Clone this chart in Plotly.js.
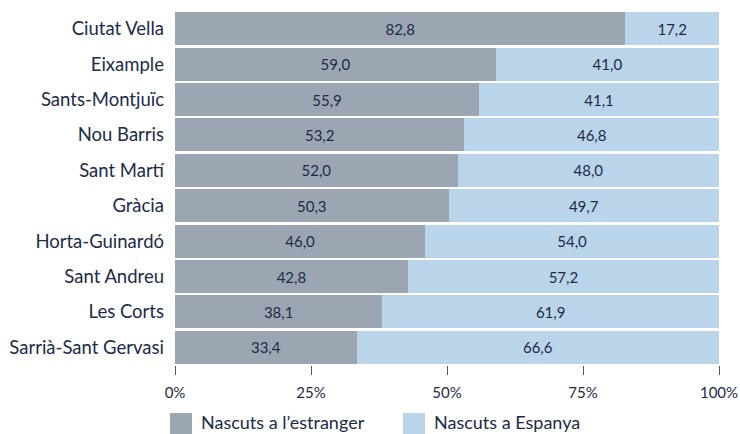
<!DOCTYPE html>
<html>
<head>
<meta charset="utf-8">
<script src="https://cdn.plot.ly/plotly-3.0.1.min.js"></script>
<style>
html,body{margin:0;padding:0;background:#fff;}
#chart{width:740px;height:434px;}
</style>
</head>
<body>
<div id="chart"></div>
<script>
// Data
const districtes = ["Ciutat Vella", "Eixample", "Sants-Montjuïc", "Nou Barris", "Sant Martí",
  "Gràcia", "Horta-Guinardó", "Sant Andreu", "Les Corts", "Sarrià-Sant Gervasi"];
const estranger = [82.8, 59.0, 55.9, 53.2, 52.0, 50.3, 46.0, 42.8, 38.1, 33.4];
// bar lengths as drawn in the picture
const espanya = [17.2, 41.0, 44.1, 46.8, 48.0, 49.7, 54.0, 57.2, 61.9, 66.6];
// values as labelled in the picture
const espanyaLabels = [17.2, 41.0, 41.1, 46.8, 48.0, 49.7, 54.0, 57.2, 61.9, 66.6];
const seriesNames = ["Nascuts a l’estranger", "Nascuts a Espanya"];
const tickValues = [0, 25, 50, 75, 100];

const txtColor = "#1c2b48";
const darkColor = "#9ca6b2";
const lightColor = "#bad5ea";
const fmt = v => v.toFixed(1).replace(".", ",");

const traces = [
  {
    type: "bar", orientation: "h", name: seriesNames[0],
    y: districtes, x: estranger,
    text: estranger.map(fmt), textposition: "inside", insidetextanchor: "middle",
    textangle: 0, constraintext: "none",
    insidetextfont: {family: "Lato", size: 15, color: txtColor},
    marker: {color: darkColor, line: {width: 0}},
    hoverinfo: "skip", showlegend: false
  },
  {
    type: "bar", orientation: "h", name: seriesNames[1],
    y: districtes, x: espanya,
    text: espanyaLabels.map(fmt), textposition: "inside", insidetextanchor: "middle",
    textangle: 0, constraintext: "none",
    insidetextfont: {family: "Lato", size: 15, color: txtColor},
    marker: {color: lightColor, line: {width: 0}},
    hoverinfo: "skip", showlegend: false
  }
];

const layout = {
  width: 740, height: 434,
  margin: {l: 175, r: 21, t: 11, b: 69, pad: 0},
  barmode: "stack", bargap: 0.07,
  paper_bgcolor: "#fff", plot_bgcolor: "#fff",
  font: {family: "Lato", color: txtColor},
  xaxis: {
    range: [0, 100], tickvals: tickValues, ticktext: tickValues.map(v => v + "%"),
    ticks: "outside", ticklen: 9, tickwidth: 1, tickcolor: "#555",
    showgrid: false, zeroline: false, showline: false,
    tickfont: {family: "Lato", size: 15, color: txtColor},
    ticklabelstandoff: 5, fixedrange: true
  },
  yaxis: {
    autorange: "reversed", type: "category",
    showgrid: false, zeroline: false, showline: false, ticks: "",
    tickfont: {family: "Lato", size: 18.5, color: txtColor},
    ticklabelstandoff: 10, fixedrange: true
  },
  shapes: [
    {type: "rect", xref: "paper", yref: "paper", x0: -5/544, x1: 17/544, y0: -69/354, y1: -48/354,
     fillcolor: darkColor, line: {width: 0}},
    {type: "rect", xref: "paper", yref: "paper", x0: 228/544, x1: 250/544, y0: -69/354, y1: -48/354,
     fillcolor: lightColor, line: {width: 0}}
  ],
  annotations: [
    {xref: "paper", yref: "paper", x: 24/544, y: -57/354, xanchor: "left", yanchor: "middle",
     text: seriesNames[0], showarrow: false, font: {family: "Lato", size: 18, color: txtColor}},
    {xref: "paper", yref: "paper", x: 257/544, y: -57/354, xanchor: "left", yanchor: "middle",
     text: seriesNames[1], showarrow: false, font: {family: "Lato", size: 18, color: txtColor}}
  ]
};

Plotly.newPlot("chart", traces, layout, {displayModeBar: false, staticPlot: true});
</script>
</body>
</html>
